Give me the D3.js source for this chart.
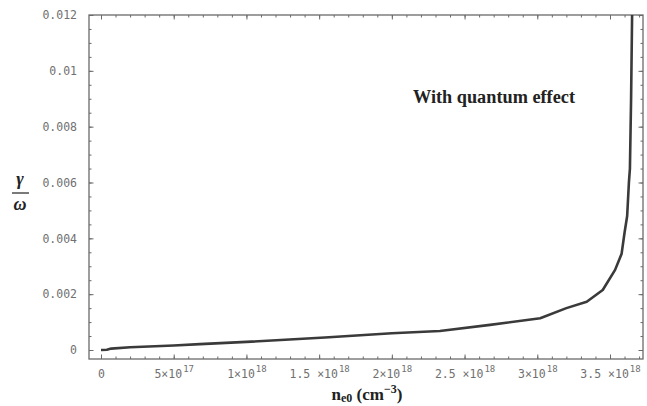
<!DOCTYPE html>
<html>
<head>
<meta charset="utf-8">
<script src="https://cdn.jsdelivr.net/npm/d3@7"></script>
<style>
  body { margin: 0; background: #fff; }
  svg { display: block; }
</style>
</head>
<body>
<div id="vis"></div>
<script>
// size of the picture
const WIDTH = 647;
const HEIGHT = 406;
// frame box of the plot
const FRAME_BOX = {left: 89, right: 643, top: 15, bottom: 359};

// density n_e0 in units of 1e18 cm^-3
const NE0 = [0, 0.04, 0.07, 0.2, 0.5, 0.68, 1.0, 1.54, 2.0, 2.33, 2.675, 3.02, 3.2, 3.34,
             3.45, 3.535, 3.58, 3.60, 3.618, 3.63, 3.637, 3.645, 3.652];
// growth rate gamma / omega
const GAMMA = [0, 0.00001, 0.00005, 0.0001, 0.00016, 0.00021, 0.00029, 0.00045, 0.0006, 0.00068,
               0.0009, 0.00114, 0.0015, 0.00173, 0.00215, 0.00287, 0.00345, 0.0042, 0.0048,
               0.006, 0.0065, 0.009, 0.012];

// tick labels
const X_TICKS = [0, 0.5, 1, 1.5, 2, 2.5, 3, 3.5];
const X_TICK_MANT = ["0", "5×10", "1×10", "1.5 ×10", "2×10", "2.5 ×10", "3×10", "3.5 ×10"];
const X_TICK_EXP = ["", "17", "18", "18", "18", "18", "18", "18"];
const Y_TICKS = [0, 0.002, 0.004, 0.006, 0.008, 0.01, 0.012];
const Y_TICK_LABELS = ["0", "0.002", "0.004", "0.006", "0.008", "0.01", "0.012"];

const X_SCALE = d3.scaleLinear().domain([0, 3.5]).range([101, 610]);
const Y_SCALE = d3.scaleLinear().domain([0, 0.012]).range([350, 15]);

const SVG = d3.select("#vis")
  .append("svg")
    .attr("width", WIDTH)
    .attr("height", HEIGHT);

const AXIS_COLOR = "#6a6a6a";
const TICK_FONT = "'DejaVu Sans Mono', monospace";
const SERIF = "'Liberation Serif', 'Times New Roman', serif";

// minor ticks (x every 1e17, y every 0.0005)
const X_MINOR = d3.range(0, 3.75, 0.1).filter((v) => X_SCALE(v) < FRAME_BOX.right - 1);
const Y_MINOR = d3.range(0, 0.01201, 0.0005);

function styleAxis(g) {
  g.select(".domain").remove();
  g.selectAll("line").attr("stroke", AXIS_COLOR).attr("stroke-width", 1);
}

// bottom minor + major
SVG.append("g")
  .attr("transform", "translate(0," + FRAME_BOX.bottom + ")")
  .call(d3.axisBottom(X_SCALE).tickValues(X_MINOR).tickSizeInner(-2.5).tickSizeOuter(0).tickFormat(""))
  .call(styleAxis);
const xAxis = SVG.append("g")
  .attr("transform", "translate(0," + FRAME_BOX.bottom + ")")
  .call(d3.axisBottom(X_SCALE).tickValues(X_TICKS).tickSizeInner(-4.5).tickSizeOuter(0))
  .call(styleAxis);
xAxis.selectAll("text").each(function(d, i) {
  const t = d3.select(this);
  t.text(null)
    .attr("y", 19)
    .attr("dy", null)
    .attr("fill", "#707070")
    .attr("font-family", TICK_FONT)
    .attr("font-size", "11.5px");
  t.append("tspan").text(X_TICK_MANT[i]);
  if (X_TICK_EXP[i]) {
    t.append("tspan").attr("dy", -6).attr("dx", 1).attr("font-size", "9px").text(X_TICK_EXP[i]);
  }
});

// top mirror ticks
SVG.append("g")
  .attr("transform", "translate(0," + FRAME_BOX.top + ")")
  .call(d3.axisTop(X_SCALE).tickValues(X_MINOR).tickSizeInner(-2.5).tickSizeOuter(0).tickFormat(""))
  .call(styleAxis);
SVG.append("g")
  .attr("transform", "translate(0," + FRAME_BOX.top + ")")
  .call(d3.axisTop(X_SCALE).tickValues(X_TICKS).tickSizeInner(-4.5).tickSizeOuter(0).tickFormat(""))
  .call(styleAxis);

// left axis
SVG.append("g")
  .attr("transform", "translate(" + FRAME_BOX.left + ",0)")
  .call(d3.axisLeft(Y_SCALE).tickValues(Y_MINOR).tickSizeInner(-2.5).tickSizeOuter(0).tickFormat(""))
  .call(styleAxis);
const yAxis = SVG.append("g")
  .attr("transform", "translate(" + FRAME_BOX.left + ",0)")
  .call(d3.axisLeft(Y_SCALE).tickValues(Y_TICKS).tickSizeInner(-4.5).tickSizeOuter(0)
    .tickFormat((d, i) => Y_TICK_LABELS[i]))
  .call(styleAxis);
yAxis.selectAll("text")
  .attr("x", -12)
  .attr("fill", "#707070")
  .attr("font-family", TICK_FONT)
  .attr("font-size", "11.5px");

// right mirror ticks
SVG.append("g")
  .attr("transform", "translate(" + FRAME_BOX.right + ",0)")
  .call(d3.axisRight(Y_SCALE).tickValues(Y_MINOR).tickSizeInner(-2.5).tickSizeOuter(0).tickFormat(""))
  .call(styleAxis);
SVG.append("g")
  .attr("transform", "translate(" + FRAME_BOX.right + ",0)")
  .call(d3.axisRight(Y_SCALE).tickValues(Y_TICKS).tickSizeInner(-4.5).tickSizeOuter(0).tickFormat(""))
  .call(styleAxis);

// frame
SVG.append("rect")
  .attr("x", FRAME_BOX.left)
  .attr("y", FRAME_BOX.top)
  .attr("width", FRAME_BOX.right - FRAME_BOX.left)
  .attr("height", FRAME_BOX.bottom - FRAME_BOX.top)
  .attr("fill", "none")
  .attr("stroke", AXIS_COLOR)
  .attr("stroke-width", 1.3);

// the curve
const data = NE0.map((x, i) => ({x: x, y: GAMMA[i]}));
SVG.append("path")
  .datum(data)
  .attr("fill", "none")
  .attr("stroke", "#3a3a3a")
  .attr("stroke-width", 2.6)
  .attr("stroke-linejoin", "round")
  .attr("d", d3.line().x((d) => X_SCALE(d.x)).y((d) => Y_SCALE(d.y)));

// annotation
SVG.append("text")
  .attr("x", 413)
  .attr("y", 103)
  .attr("font-family", SERIF)
  .attr("font-weight", "bold")
  .attr("font-size", "18px")
  .attr("fill", "#222")
  .attr("textLength", 162)
  .attr("lengthAdjust", "spacingAndGlyphs")
  .text("With  quantum  effect");

// x label n_e0 (cm^-3)
const xl = SVG.append("text")
  .attr("x", 367)
  .attr("y", 400)
  .attr("text-anchor", "middle")
  .attr("font-family", SERIF)
  .attr("font-weight", "bold")
  .attr("font-size", "17px")
  .attr("fill", "#222");
xl.append("tspan").text("n");
xl.append("tspan").attr("dy", 2).attr("font-size", "12px").text("e0");
xl.append("tspan").attr("dy", -2).text(" (cm");
xl.append("tspan").attr("dy", -7).attr("font-size", "12px").text("−3");
xl.append("tspan").attr("dy", 7).text(")");

// y label gamma / omega
SVG.append("text")
  .attr("x", 20).attr("y", 185)
  .attr("text-anchor", "middle")
  .attr("font-family", SERIF).attr("font-weight", "bold").attr("font-style", "italic")
  .attr("font-size", "18px").attr("fill", "#222")
  .text("γ");
SVG.append("line")
  .attr("x1", 12).attr("x2", 29).attr("y1", 193).attr("y2", 193)
  .attr("stroke", "#222").attr("stroke-width", 1.2);
SVG.append("text")
  .attr("x", 20).attr("y", 210)
  .attr("text-anchor", "middle")
  .attr("font-family", SERIF).attr("font-weight", "bold").attr("font-style", "italic")
  .attr("font-size", "18px").attr("fill", "#222")
  .text("ω");
</script>
</body>
</html>
